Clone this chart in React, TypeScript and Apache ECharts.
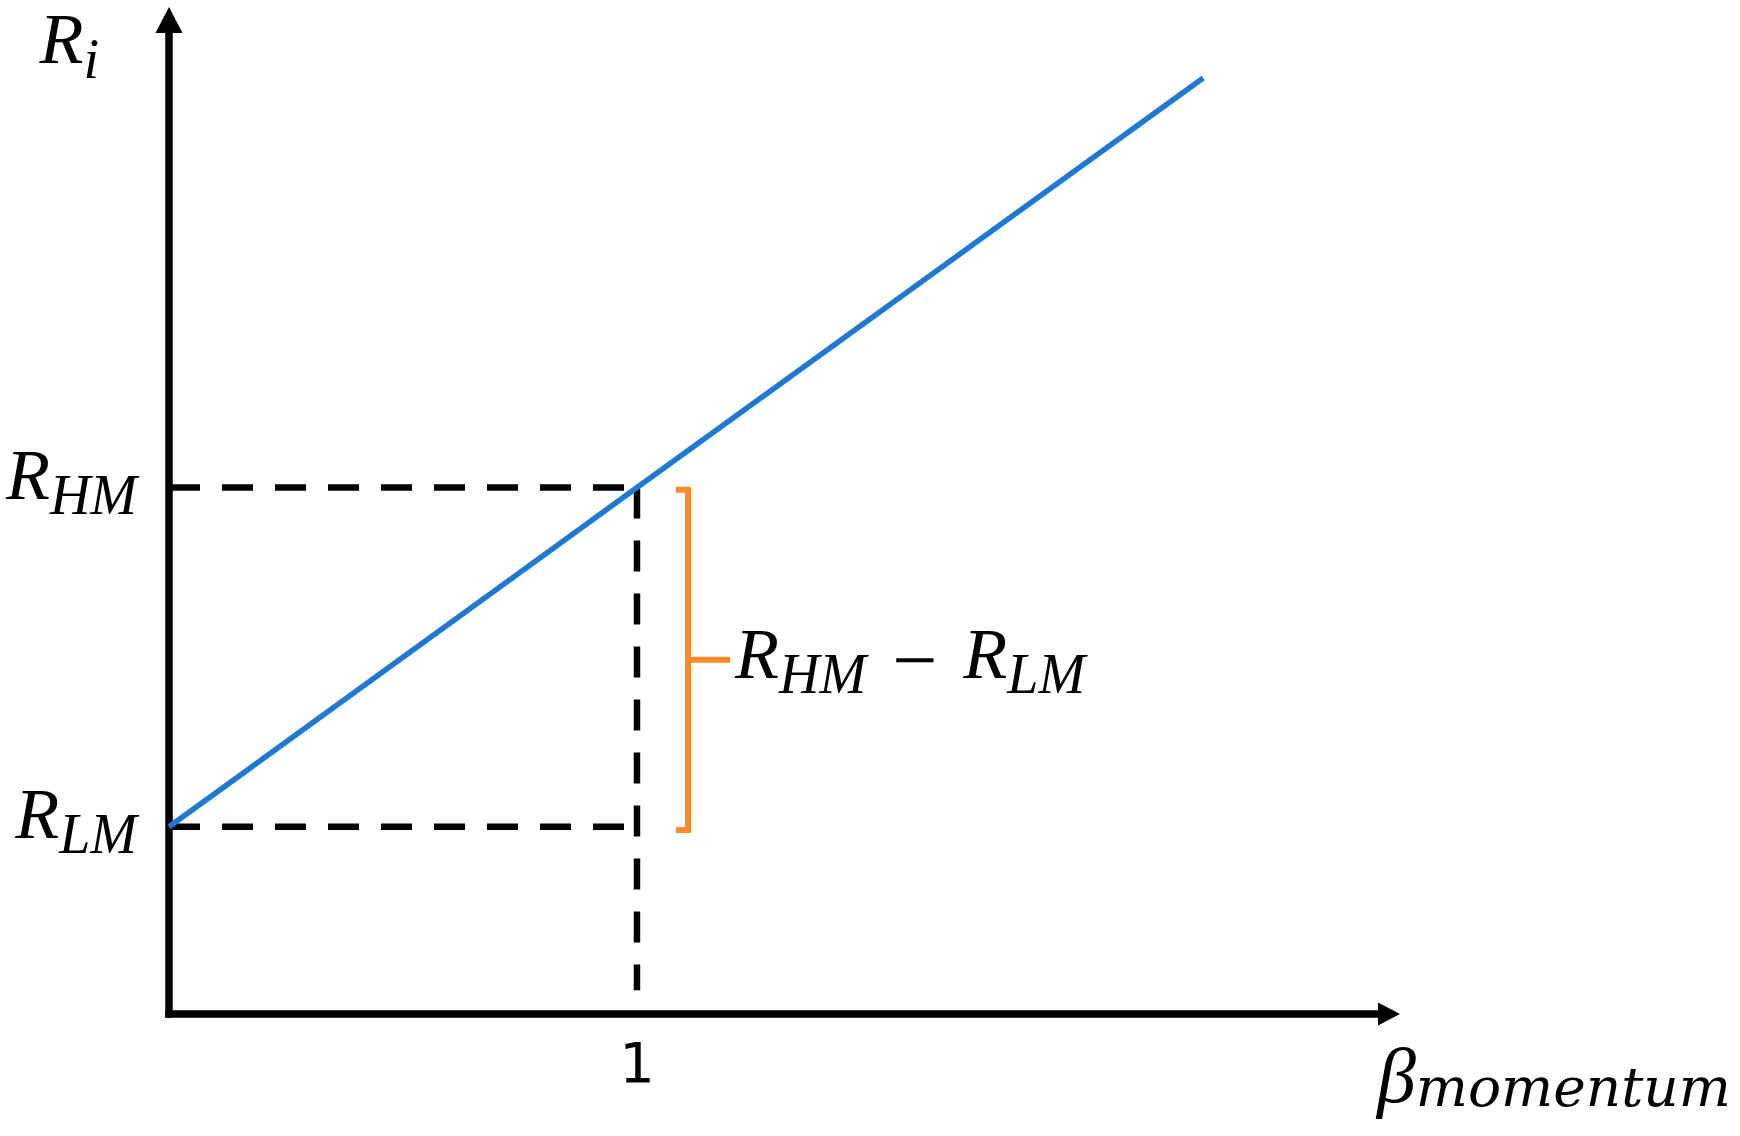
import React, { useEffect, useRef } from "react";
import * as echarts from "echarts";

// ---- data (conceptual chart units) ----
const lineX = [0, 1, 2.21];
const lineY = [0.4, 1.125, 2.0];
const R_LM = 0.4;
const R_HM = 1.125;
const X_ONE = 1;
const guideBottom = 0.051;
const xTickValues = [1];
const xTickLabels = ["1"];
const yTickValues = [0.4, 1.125];
const yTickSubs = ["LM", "HM"];
const bracketX = [1.083, 1.109, 1.109, 1.083];
const bracketY = [1.12, 1.12, 0.393, 0.393];
const bracketTickX = [1.109, 1.199];
const bracketMid = 0.757;
const X_MAX = 2.607;
const Y_MAX = 2.124;

const SERIF = "Liberation Serif";
const richMath = {
  r: { fontFamily: SERIF, fontStyle: "italic", fontSize: 72, lineHeight: 84, verticalAlign: "top", color: "#000" },
  s: { fontFamily: SERIF, fontStyle: "italic", fontSize: 56, lineHeight: 84, verticalAlign: "bottom", color: "#000" },
  op: { fontFamily: SERIF, fontSize: 80, lineHeight: 84, verticalAlign: "middle", color: "#000", padding: [0, 26, 0, 26] },
  b: { fontFamily: SERIF, fontStyle: "italic", fontSize: 78, lineHeight: 80, verticalAlign: "bottom", color: "#000" },
  m: { fontFamily: "DejaVu Serif", fontStyle: "italic", fontSize: 55, lineHeight: 80, verticalAlign: "bottom", color: "#000" },
};

export default function App() {
  const ref = useRef<HTMLDivElement>(null);
  useEffect(() => {
    document.body.style.margin = "0";
    const chart = echarts.init(ref.current!, null, { renderer: "svg" });
    const dash = { color: "#000", width: 6.5, type: [31, 22], cap: "butt" };
    chart.setOption({
      animation: false,
      backgroundColor: "#fff",
      grid: { left: 169, right: 351, top: 20, bottom: 122, containLabel: false, outerBoundsMode: "none" },
      xAxis: {
        type: "value",
        min: 0,
        max: X_MAX,
        splitLine: { show: false },
        axisTick: { show: false },
        axisLine: {
          show: true,
          onZero: false,
          symbol: ["none", "triangle"],
          symbolSize: [23, 22],
          lineStyle: { color: "#000", width: 7.5, cap: "square" },
        },
        axisLabel: {
          customValues: xTickValues,
          formatter: (v: number) => {
            const i = xTickValues.findIndex((t) => Math.abs(t - v) < 1e-6);
            return i >= 0 ? xTickLabels[i] : "";
          },
          fontFamily: "DejaVu Sans",
          fontSize: 56,
          color: "#000",
          margin: 20,
        },
        name: "{b|β}{m|momentum}",
        nameLocation: "end",
        nameGap: -12,
        nameTextStyle: { align: "left", verticalAlign: "top", padding: [20, 0, 0, 0], rich: richMath },
      },
      yAxis: {
        type: "value",
        min: 0,
        max: Y_MAX,
        splitLine: { show: false },
        axisTick: { show: false },
        axisLine: {
          show: true,
          onZero: false,
          symbol: ["none", "triangle"],
          symbolSize: [27, 26],
          lineStyle: { color: "#000", width: 7.5, cap: "square" },
        },
        axisLabel: {
          customValues: yTickValues,
          formatter: (v: number) => {
            const i = yTickValues.findIndex((t) => Math.abs(t - v) < 1e-6);
            return i >= 0 ? `{r|R}{s|${yTickSubs[i]}}` : "";
          },
          margin: 32,
          align: "right",
          verticalAlign: "middle",
          padding: [0, 0, 14, 0],
          rich: richMath,
        },
        name: "{r|R}{s|i}",
        nameLocation: "end",
        nameGap: 17,
        nameTextStyle: { align: "right", verticalAlign: "top", padding: [0, 70, 0, 0], rich: richMath },
      },
      series: [
        {
          type: "line",
          data: [[0, R_HM], [X_ONE, R_HM]],
          symbol: "none",
          lineStyle: dash,
          z: 2,
        },
        {
          type: "line",
          data: [[0, R_LM], [X_ONE, R_LM]],
          symbol: "none",
          lineStyle: dash,
          z: 2,
        },
        {
          type: "line",
          data: [[X_ONE, R_HM], [X_ONE, guideBottom]],
          symbol: "none",
          lineStyle: dash,
          z: 2,
        },
        {
          type: "line",
          data: bracketX.map((x, i) => [x, bracketY[i]]),
          symbol: "none",
          lineStyle: { color: "#FF8A2B", width: 6, join: "miter", cap: "butt" },
          z: 3,
        },
        {
          type: "line",
          data: bracketTickX.map((x) => [x, bracketMid]),
          symbol: "none",
          lineStyle: { color: "#FF8A2B", width: 6, cap: "butt" },
          z: 3,
        },
        {
          type: "scatter",
          data: [[bracketTickX[1], bracketMid]],
          symbolSize: 0,
          itemStyle: { color: "#000", opacity: 1 },
          label: {
            show: true,
            color: "#000",
            opacity: 1,
            position: "right",
            distance: 5,
            verticalAlign: "middle",
            formatter: "{r|R}{s|HM}{op|−}{r|R}{s|LM}",
            rich: richMath,
          },
          z: 4,
        },
        {
          type: "line",
          data: lineX.map((x, i) => [x, lineY[i]]),
          symbol: "none",
          lineStyle: { color: "#1F78D1", width: 5.5, cap: "butt" },
          z: 5,
        },
      ],
    });
    return () => chart.dispose();
  }, []);
  return (
    <div
      ref={ref}
      style={{ position: "absolute", left: 0, top: 0, width: 1740, height: 1136 }}
    />
  );
}
